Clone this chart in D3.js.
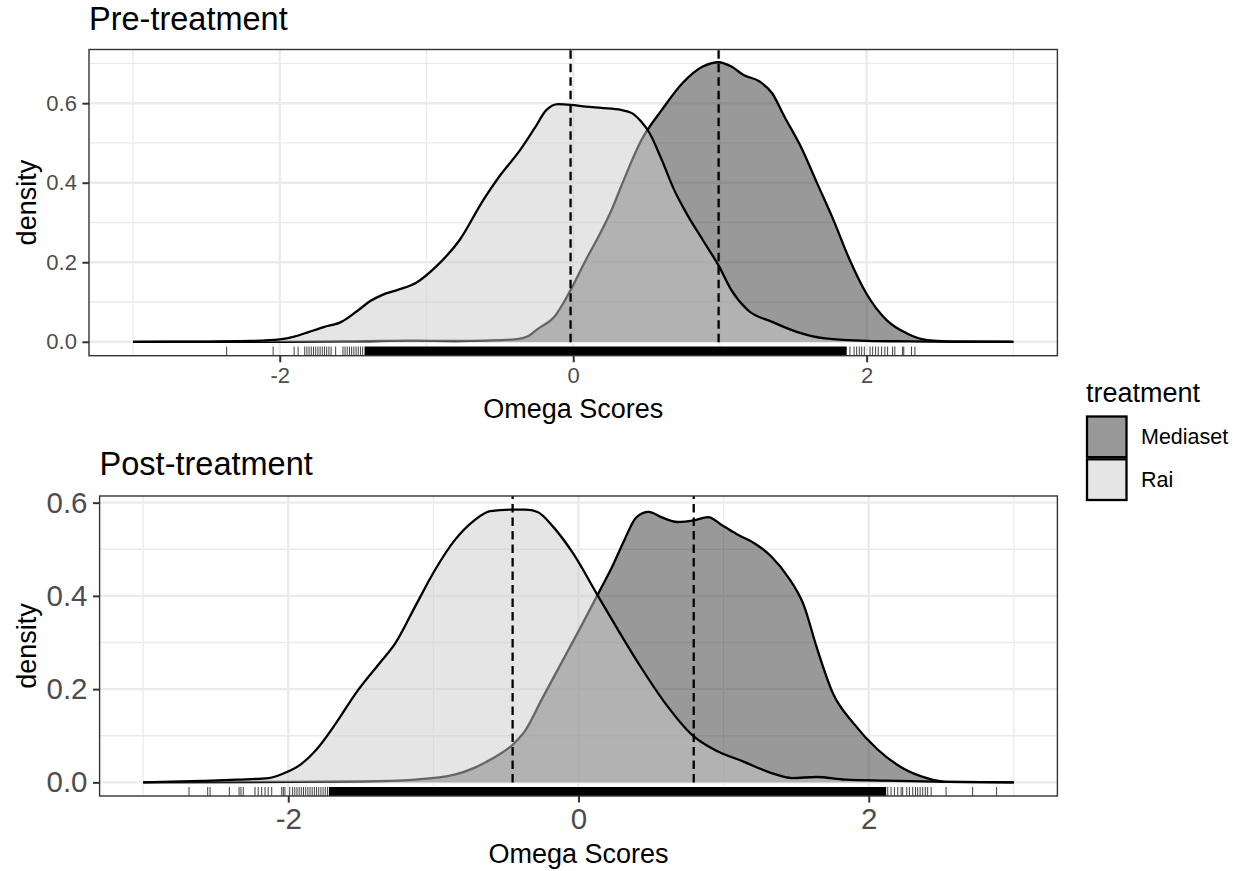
<!DOCTYPE html>
<html><head><meta charset="utf-8">
<script src="https://cdn.jsdelivr.net/npm/d3@7"></script>
<style>
body{margin:0;background:#fff}
text{font-family:"Liberation Sans",Arial,sans-serif}
</style>
</head><body>
<svg id="c" width="1242" height="871"></svg>
<script>
// ---------------- data ----------------
const groups = ["Mediaset", "Rai"];
const groupFill = ["#333333", "#cccccc"];
const xTicks = [-2, 0, 2];
const xMinor = [-3, -1, 1, 3];
const yTicks = [0, 0.2, 0.4, 0.6];
const yTickLabels = ["0.0", "0.2", "0.4", "0.6"];

// Pre-treatment densities
const preRaiX = [-3, -2.5, -2.2, -2.0, -1.9, -1.8, -1.7, -1.58, -1.47, -1.38, -1.3, -1.2, -1.07, -0.935, -0.774, -0.612, -0.505, -0.37, -0.263, -0.182, -0.102, -0.018, 0.086, 0.19, 0.326, 0.4, 0.46, 0.521, 0.604, 0.688, 0.772, 0.883, 0.995, 1.078, 1.189, 1.356, 1.523, 1.718, 2.0, 2.3, 2.6, 3.0];
const preRaiY = [0, 0.0005, 0.002, 0.006, 0.013, 0.025, 0.037, 0.05, 0.078, 0.103, 0.118, 0.130, 0.1485, 0.189, 0.256, 0.357, 0.415, 0.478, 0.537, 0.583, 0.5975, 0.596, 0.5915, 0.588, 0.583, 0.575, 0.555, 0.5245, 0.457, 0.382, 0.323, 0.256, 0.189, 0.130, 0.080, 0.050, 0.025, 0.0085, 0.0025, 0.001, 0, 0];
const preMedX = [-3, -2.0, -1.5, -1.1, -0.8, -0.6, -0.4, -0.3, -0.236, -0.128, -0.018, 0.086, 0.187, 0.26, 0.326, 0.466, 0.604, 0.744, 0.883, 0.991, 1.078, 1.161, 1.273, 1.356, 1.44, 1.551, 1.662, 1.774, 1.885, 1.997, 2.136, 2.275, 2.414, 2.55, 3.0];
const preMedY = [0, 0, 0.001, 0.003, 0.002, 0.003, 0.006, 0.016, 0.0337, 0.063, 0.130, 0.2056, 0.275, 0.33, 0.39, 0.508, 0.583, 0.650, 0.692, 0.703, 0.692, 0.671, 0.654, 0.625, 0.566, 0.491, 0.399, 0.306, 0.2056, 0.122, 0.0546, 0.021, 0.004, 0.001, 0];
const preMeans = [0.991, -0.018]; // Mediaset, Rai

// Post-treatment densities
const postRaiX = [-3, -2.6, -2.352, -2.134, -2.025, -1.916, -1.807, -1.671, -1.535, -1.371, -1.263, -1.126, -0.99, -0.854, -0.718, -0.609, -0.454, -0.364, -0.282, -0.174, -0.037, 0.125, 0.259, 0.428, 0.597, 0.794, 0.936, 1.133, 1.33, 1.471, 1.64, 1.838, 2.12, 2.54, 3.0];
const postRaiY = [0, 0.003, 0.0058, 0.0093, 0.020, 0.038, 0.070, 0.127, 0.191, 0.2555, 0.298, 0.377, 0.455, 0.519, 0.562, 0.582, 0.585, 0.585, 0.580, 0.548, 0.491, 0.405, 0.334, 0.248, 0.17, 0.0985, 0.070, 0.045, 0.020, 0.0093, 0.0115, 0.0058, 0.0037, 0.001, 0];
const postMedX = [-3, -2.0, -1.5, -1.126, -0.854, -0.718, -0.609, -0.454, -0.364, -0.255, -0.119, 0.017, 0.153, 0.231, 0.315, 0.4, 0.484, 0.569, 0.682, 0.794, 0.893, 0.992, 1.105, 1.217, 1.33, 1.443, 1.556, 1.64, 1.753, 1.894, 2.063, 2.232, 2.401, 2.54, 3.0];
const postMedY = [0, 0.001, 0.002, 0.006, 0.0165, 0.031, 0.0486, 0.0807, 0.1128, 0.177, 0.2555, 0.334, 0.415, 0.462, 0.519, 0.569, 0.580, 0.569, 0.5585, 0.562, 0.569, 0.551, 0.530, 0.512, 0.484, 0.441, 0.377, 0.291, 0.191, 0.127, 0.070, 0.031, 0.0093, 0.001, 0];
const postMeans = [0.794, -0.454];

// Rug: isolated observations and the range where marks merge into a solid band
const preRugTicks = [-2.362, -2.045, -1.902, -1.875, -1.83, -1.815, -1.80, -1.785, -1.77, -1.755, -1.74, -1.725, -1.71, -1.695, -1.68, -1.665, -1.65, -1.619, -1.569, -1.555, -1.54, -1.525, -1.51, -1.495, -1.48, -1.465, -1.45, -1.435,
  1.886, 1.914, 1.932, 1.950, 1.966, 1.984, 2.023, 2.041, 2.061, 2.079, 2.102, 2.124, 2.143, 2.177, 2.192, 2.245, 2.253, 2.306, 2.329];
const preRugBand = [-1.422, 1.864];
const postRugTicks = [-2.684, -2.555, -2.539, -2.406, -2.339, -2.326, -2.310, -2.229, -2.207, -2.183, -2.160, -2.138, -2.114, -2.045, -2.034, -2.023,
  -1.99, -1.97, -1.955, -1.94, -1.925, -1.91, -1.895, -1.88, -1.865, -1.85, -1.835, -1.82, -1.805, -1.79, -1.775, -1.76, -1.745, -1.73,
  2.131, 2.154, 2.177, 2.2, 2.223, 2.234, 2.262, 2.28, 2.303, 2.322, 2.337, 2.354, 2.372, 2.39, 2.406, 2.43, 2.533, 2.716, 2.881];
const postRugBand = [-1.72, 2.12];

// ---------------- drawing ----------------
const svg = d3.select("#c");
const zip = (a, b) => a.map((v, i) => [v, b[i]]);

function panel(cfg) {
  const x = d3.scaleLinear().domain([-3.3, 3.3]).range([cfg.left, cfg.right]);
  const y = d3.scaleLinear().domain(cfg.yDomain).range([cfg.bottom, cfg.top]);
  const g = svg.append("g");

  // grid
  const yMinor = [0.1, 0.3, 0.5, 0.7].filter(v => v < cfg.yDomain[1]);
  g.selectAll(".ym").data(yMinor).join("line")
    .attr("x1", cfg.left).attr("x2", cfg.right).attr("y1", d => y(d)).attr("y2", d => y(d))
    .attr("stroke", "#ebebeb").attr("stroke-width", 1.3);
  g.selectAll(".xm").data(xMinor).join("line")
    .attr("y1", cfg.top).attr("y2", cfg.bottom).attr("x1", d => x(d)).attr("x2", d => x(d))
    .attr("stroke", "#ebebeb").attr("stroke-width", 1.3);
  g.selectAll(".yM").data(yTicks).join("line")
    .attr("x1", cfg.left).attr("x2", cfg.right).attr("y1", d => y(d)).attr("y2", d => y(d))
    .attr("stroke", "#ebebeb").attr("stroke-width", 2.4);
  g.selectAll(".xM").data(xTicks).join("line")
    .attr("y1", cfg.top).attr("y2", cfg.bottom).attr("x1", d => x(d)).attr("x2", d => x(d))
    .attr("stroke", "#ebebeb").attr("stroke-width", 2.4);

  const area = d3.area().x(d => x(d[0])).y0(y(0)).y1(d => y(d[1])).curve(d3.curveMonotoneX);
  const line = d3.line().x(d => x(d[0])).y(d => y(d[1])).curve(d3.curveMonotoneX);
  cfg.series.forEach((s, i) => {
    const pts = zip(s[0], s[1]);
    g.append("path").attr("d", area(pts)).attr("fill", groupFill[i]).attr("fill-opacity", 0.5);
    g.append("path").attr("d", line(pts)).attr("fill", "none").attr("stroke", "#000").attr("stroke-width", 2.3);
  });

  // mean lines
  g.selectAll(".vl").data(cfg.means).join("line")
    .attr("x1", d => x(d)).attr("x2", d => x(d)).attr("y1", cfg.bottom).attr("y2", cfg.top)
    .attr("stroke", "#000").attr("stroke-width", 2.3).attr("stroke-dasharray", "8.5,5");

  // rug
  const rugH = (cfg.bottom - cfg.top) * 0.03;
  g.append("rect").attr("x", x(cfg.rugBand[0])).attr("width", x(cfg.rugBand[1]) - x(cfg.rugBand[0]))
    .attr("y", cfg.bottom - rugH).attr("height", rugH).attr("fill", "#000");
  g.selectAll(".rug").data(cfg.rugTicks).join("line")
    .attr("x1", d => x(d)).attr("x2", d => x(d)).attr("y1", cfg.bottom).attr("y2", cfg.bottom - rugH)
    .attr("stroke", "#000").attr("stroke-width", 1).attr("stroke-opacity", 0.75);

  // border
  g.append("rect").attr("x", cfg.left).attr("y", cfg.top).attr("width", cfg.right - cfg.left).attr("height", cfg.bottom - cfg.top)
    .attr("fill", "none").attr("stroke", "#333").attr("stroke-width", 1.4);

  // axes
  const ax = g.append("g").attr("transform", `translate(0,${cfg.bottom})`)
    .call(d3.axisBottom(x).tickValues(xTicks).tickFormat(d3.format("d")).tickSize(6.6).tickPadding(5.5));
  const ay = g.append("g").attr("transform", `translate(${cfg.left},0)`)
    .call(d3.axisLeft(y).tickValues(yTicks).tickFormat((d, i) => yTickLabels[i]).tickSize(6.6).tickPadding(5.5));
  [ax, ay].forEach(a => {
    a.select(".domain").remove();
    a.selectAll(".tick line").attr("stroke", "#333").attr("stroke-width", 2);
    a.selectAll(".tick text").attr("fill", "#4d4d4d").style("font-size", cfg.tickSize + "px")
      .style("font-family", '"Liberation Sans", Arial, sans-serif');
  });
  ax.selectAll(".tick text").text(d => d < 0 ? "-" + Math.abs(d) : d);

  // titles
  svg.append("text").attr("x", cfg.left).attr("y", cfg.titleY).text(cfg.title)
    .style("font-size", "32.5px").attr("fill", "#000");
  svg.append("text").attr("x", (cfg.left + cfg.right) / 2).attr("y", cfg.xTitleY).attr("text-anchor", "middle")
    .text("Omega Scores").style("font-size", "27px").attr("fill", "#000");
  svg.append("text").attr("transform", `translate(36,${(cfg.top + cfg.bottom) / 2}) rotate(-90)`)
    .attr("text-anchor", "middle").text("density").style("font-size", "27px").attr("fill", "#000");
}

panel({left: 89, right: 1057.4, top: 49.5, bottom: 355.7, yDomain: [-0.035, 0.735],
  series: [[preMedX, preMedY], [preRaiX, preRaiY]], means: preMeans,
  rugTicks: preRugTicks, rugBand: preRugBand, tickSize: 22, title: "Pre-treatment", titleY: 30, xTitleY: 418});
panel({left: 99.6, right: 1057.4, top: 496, bottom: 796, yDomain: [-0.02925, 0.61425],
  series: [[postMedX, postMedY], [postRaiX, postRaiY]], means: postMeans,
  rugTicks: postRugTicks, rugBand: postRugBand, tickSize: 29.5, title: "Post-treatment", titleY: 475, xTitleY: 863});

// legend
const leg = svg.append("g");
leg.append("text").attr("x", 1086).attr("y", 402).text("treatment").style("font-size", "27px");
const keyY = d3.scaleBand().domain(groups).range([416.5, 500]).paddingInner(0.05);
groups.forEach((gname, i) => {
  leg.append("rect").attr("x", 1087).attr("y", keyY(gname)).attr("width", 39.5).attr("height", keyY.bandwidth())
    .attr("fill", "#fff").attr("stroke", "none");
  leg.append("rect").attr("x", 1087).attr("y", keyY(gname)).attr("width", 39.5).attr("height", keyY.bandwidth())
    .attr("fill", groupFill[i]).attr("fill-opacity", 0.5).attr("stroke", "#000").attr("stroke-width", 2.3);
  leg.append("text").attr("x", 1141).attr("y", keyY(gname) + keyY.bandwidth() / 2).attr("dy", "0.35em")
    .text(gname).style("font-size", "21.5px");
});
</script>
</body></html>
